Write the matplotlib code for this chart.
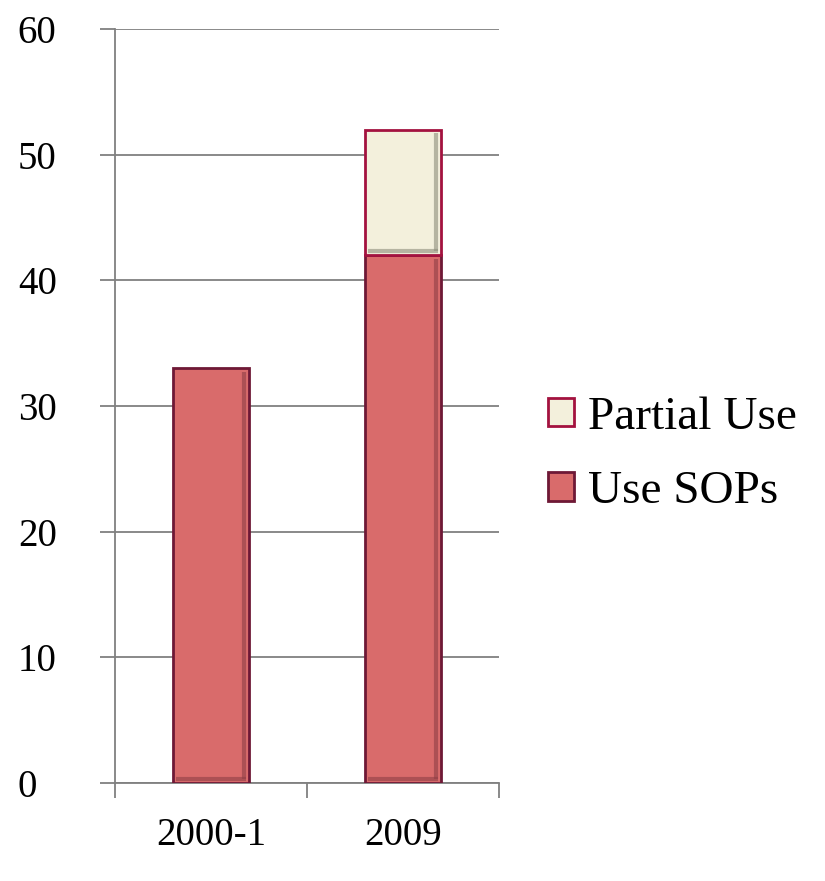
import numpy as np
import matplotlib
matplotlib.use("Agg")
from matplotlib import pyplot as plt

categories = ["2000-1", "2009"]
use_sops = [33, 42]
partial_use = [0, 10]
y_ticks = [0, 10, 20, 30, 40, 50, 60]

plt.rcParams['font.family'] = ['Liberation Serif', 'DejaVu Serif']

fig = plt.figure(figsize=(8.25, 8.81), dpi=100)
ax = fig.add_axes([0.1394, 0.1112, 0.4655, 0.8558])

x = np.arange(len(categories))
red_fill = "#D96B6B"
red_edge = "#6E1836"
cream_fill = "#F3F0DC"
cream_edge = "#A3123F"

b1 = ax.bar(x, use_sops, width=0.4, color=red_fill, edgecolor=red_edge,
            linewidth=2.0, label="Use SOPs", zorder=3)
mask = np.array(partial_use) > 0
b2 = ax.bar(x[mask], np.array(partial_use)[mask], width=0.4,
            bottom=np.array(use_sops)[mask], color=cream_fill,
            edgecolor=cream_edge, linewidth=2.0, label="Partial Use", zorder=3)

# bevel-like inner shading
for bars, shade in ((b1, "#8E3F45"), (b2, "#8C8C7A")):
    for r in bars:
        x0, y0 = r.get_x(), r.get_y()
        w, h = r.get_width(), r.get_height()
        ax.plot([x0 + w * 0.93, x0 + w * 0.93], [y0 + 0.3, y0 + h - 0.3],
                color=shade, lw=3, alpha=0.6, zorder=4, solid_capstyle="butt")
        ax.plot([x0 + w * 0.05, x0 + w * 0.95], [y0 + 0.35, y0 + 0.35],
                color=shade, lw=3, alpha=0.6, zorder=4, solid_capstyle="butt")

ax.set_xlim(-0.5, 1.5)
ax.set_ylim(0, 60)
ax.set_yticks(y_ticks)
ax.set_yticklabels([str(v) for v in y_ticks], fontsize=28)
for lab in ax.get_yticklabels():
    lab.set_horizontalalignment("left")
ax.yaxis.grid(True, color="#808080", linewidth=1.3, zorder=0)
ax.set_axisbelow(True)

ax.set_xticks([-0.5, 0.5, 1.5])
ax.set_xticklabels([])
ax.tick_params(axis="x", length=11, width=1.3, color="#808080", direction="out")
ax.tick_params(axis="y", length=11, width=1.3, color="#808080", direction="out", pad=59)
for i, c in enumerate(categories):
    ax.text(x[i], -4.2, c, ha="center", va="center", fontsize=28)

for s in ["top", "right"]:
    ax.spines[s].set_visible(False)
for s in ["left", "bottom"]:
    ax.spines[s].set_color("#808080")
    ax.spines[s].set_linewidth(1.3)

handles = [b2, b1]
leg = fig.legend(handles, ["Partial Use", "Use SOPs"], loc="center left",
                 bbox_to_anchor=(0.664, 0.484), frameon=False, fontsize=34,
                 handlelength=0.55, handleheight=0.55, handletextpad=0.3,
                 labelspacing=0.68, borderaxespad=0, borderpad=0)

fig.savefig("out.png", dpi=100, facecolor="white")
